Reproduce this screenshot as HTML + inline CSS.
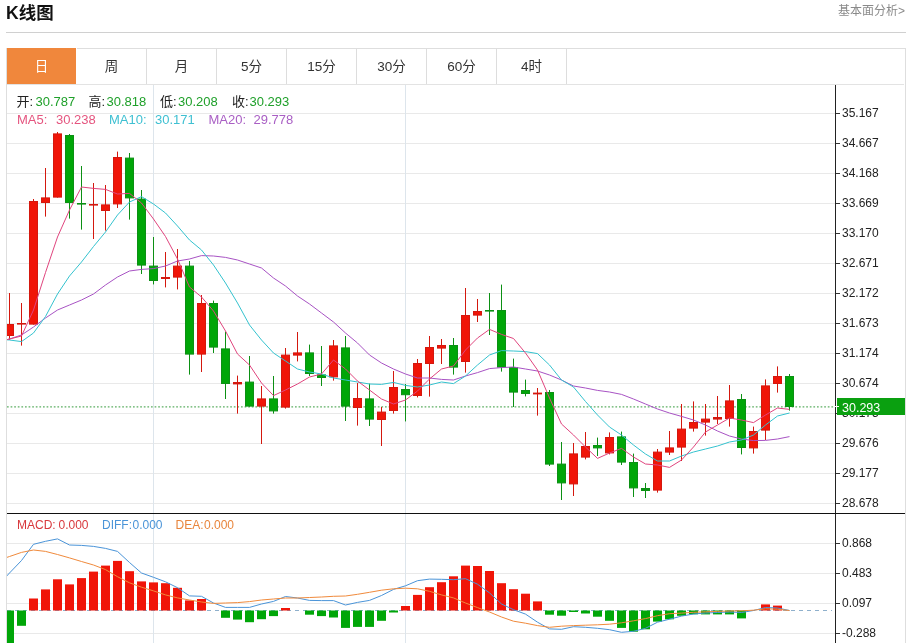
<!DOCTYPE html>
<html lang="zh-CN"><head><meta charset="utf-8"><title>K线图</title>
<style>
html,body{margin:0;padding:0;background:#fff;}
body{width:910px;height:643px;position:relative;overflow:hidden;font-family:"Liberation Sans","Noto Sans CJK SC",sans-serif;}
.title{position:absolute;left:6px;top:1px;height:24px;line-height:24px;font-size:17.5px;font-weight:bold;color:#111;}
.more{position:absolute;right:5px;top:3px;font-size:12px;line-height:17px;color:#8a8a8a;}
.hr{position:absolute;left:6px;top:32px;width:900px;height:1px;background:#d0d0d0;}
.box{position:absolute;left:6px;top:48px;width:898px;height:600px;border:1px solid #dedede;border-bottom:none;}
.tabs{position:absolute;left:7px;top:49px;height:35px;display:flex;}
.tab{width:69px;height:35px;line-height:36px;text-align:center;font-size:13.5px;color:#333;border-right:1px solid #ddd;}
.tab.on{background:#f0873c;color:#fff;margin-top:-1px;height:36px;line-height:38px;border-right-color:#fff;}
</style></head><body>
<div class="title">K线图</div>
<div class="more">基本面分析&gt;</div>
<div class="hr"></div>
<div class="box"></div>
<div class="tabs"><div class="tab on">日</div><div class="tab">周</div><div class="tab">月</div><div class="tab">5分</div><div class="tab">15分</div><div class="tab">30分</div><div class="tab">60分</div><div class="tab">4时</div></div>
<svg width="910" height="643" viewBox="0 0 910 643" style="position:absolute;left:0;top:0">
<defs><clipPath id="cp"><rect x="7" y="85" width="828" height="558"/></clipPath></defs>
<g shape-rendering="crispEdges">
<rect x="7" y="84" width="897" height="1" fill="#e3e3e3"/>
<rect x="7" y="113" width="828" height="1" fill="#e9e9e9"/>
<rect x="7" y="143" width="828" height="1" fill="#e9e9e9"/>
<rect x="7" y="173" width="828" height="1" fill="#e9e9e9"/>
<rect x="7" y="203" width="828" height="1" fill="#e9e9e9"/>
<rect x="7" y="233" width="828" height="1" fill="#e9e9e9"/>
<rect x="7" y="263" width="828" height="1" fill="#e9e9e9"/>
<rect x="7" y="293" width="828" height="1" fill="#e9e9e9"/>
<rect x="7" y="323" width="828" height="1" fill="#e9e9e9"/>
<rect x="7" y="353" width="828" height="1" fill="#e9e9e9"/>
<rect x="7" y="383" width="828" height="1" fill="#e9e9e9"/>
<rect x="7" y="413" width="828" height="1" fill="#e9e9e9"/>
<rect x="7" y="443" width="828" height="1" fill="#e9e9e9"/>
<rect x="7" y="473" width="828" height="1" fill="#e9e9e9"/>
<rect x="7" y="503" width="828" height="1" fill="#e9e9e9"/>
<rect x="7" y="543" width="828" height="1" fill="#e9e9e9"/>
<rect x="7" y="573" width="828" height="1" fill="#e9e9e9"/>
<rect x="7" y="603" width="828" height="1" fill="#e9e9e9"/>
<rect x="7" y="633" width="828" height="1" fill="#e9e9e9"/>
<rect x="153" y="85" width="1" height="558" fill="#dde5ec"/>
<rect x="405" y="85" width="1" height="558" fill="#dde5ec"/>
</g>
<line x1="7" y1="406.9" x2="835" y2="406.9" stroke="#5cae62" stroke-width="1.3" stroke-dasharray="1.7,1.9"/>
<line x1="7" y1="610.5" x2="832" y2="610.5" stroke="#8fb0cc" stroke-width="1" stroke-dasharray="4,4"/>
<g clip-path="url(#cp)">
<g shape-rendering="crispEdges">
<rect x="9" y="293.0" width="1" height="47.0" fill="#d4180e" shape-rendering="auto"/>
<rect x="5.5" y="324.5" width="8" height="11.0" fill="#f01508" stroke="#d4180e" stroke-width="1" shape-rendering="auto"/>
<rect x="21" y="303.0" width="1" height="42.6" fill="#d4180e" shape-rendering="auto"/>
<rect x="17" y="323.0" width="9" height="1.6" fill="#d4180e" shape-rendering="auto"/>
<rect x="33" y="199.0" width="1" height="125.6" fill="#d4180e" shape-rendering="auto"/>
<rect x="29.5" y="201.5" width="8" height="122.6" fill="#f01508" stroke="#d4180e" stroke-width="1" shape-rendering="auto"/>
<rect x="45" y="168.0" width="1" height="48.6" fill="#d4180e" shape-rendering="auto"/>
<rect x="41.5" y="197.9" width="8" height="4.6" fill="#f01508" stroke="#d4180e" stroke-width="1" shape-rendering="auto"/>
<rect x="57" y="132.0" width="1" height="65.6" fill="#d4180e" shape-rendering="auto"/>
<rect x="53.5" y="133.9" width="8" height="63.2" fill="#f01508" stroke="#d4180e" stroke-width="1" shape-rendering="auto"/>
<rect x="69" y="134.0" width="1" height="84.6" fill="#0c9014" shape-rendering="auto"/>
<rect x="65.5" y="135.5" width="8" height="67.0" fill="#00a608" stroke="#0c9014" stroke-width="1" shape-rendering="auto"/>
<rect x="81" y="166.0" width="1" height="63.6" fill="#0c9014" shape-rendering="auto"/>
<rect x="77" y="203.0" width="9" height="1.6" fill="#0c9014" shape-rendering="auto"/>
<rect x="93" y="183.0" width="1" height="56.0" fill="#d4180e" shape-rendering="auto"/>
<rect x="89" y="204.0" width="9" height="1.6" fill="#d4180e" shape-rendering="auto"/>
<rect x="105" y="185.0" width="1" height="45.6" fill="#d4180e" shape-rendering="auto"/>
<rect x="101.5" y="204.9" width="8" height="5.6" fill="#f01508" stroke="#d4180e" stroke-width="1" shape-rendering="auto"/>
<rect x="117" y="151.6" width="1" height="56.4" fill="#d4180e" shape-rendering="auto"/>
<rect x="113.5" y="157.5" width="8" height="46.4" fill="#f01508" stroke="#d4180e" stroke-width="1" shape-rendering="auto"/>
<rect x="129" y="153.0" width="1" height="66.6" fill="#0c9014" shape-rendering="auto"/>
<rect x="125.5" y="158.1" width="8" height="39.8" fill="#00a608" stroke="#0c9014" stroke-width="1" shape-rendering="auto"/>
<rect x="141" y="190.0" width="1" height="84.0" fill="#0c9014" shape-rendering="auto"/>
<rect x="137.5" y="199.1" width="8" height="66.0" fill="#00a608" stroke="#0c9014" stroke-width="1" shape-rendering="auto"/>
<rect x="153" y="237.0" width="1" height="47.4" fill="#0c9014" shape-rendering="auto"/>
<rect x="149.5" y="266.1" width="8" height="14.4" fill="#00a608" stroke="#0c9014" stroke-width="1" shape-rendering="auto"/>
<rect x="165" y="252.0" width="1" height="35.4" fill="#d4180e" shape-rendering="auto"/>
<rect x="161" y="277.0" width="9" height="2.0" fill="#d4180e" shape-rendering="auto"/>
<rect x="177" y="249.0" width="1" height="40.4" fill="#d4180e" shape-rendering="auto"/>
<rect x="173.5" y="266.1" width="8" height="11.0" fill="#f01508" stroke="#d4180e" stroke-width="1" shape-rendering="auto"/>
<rect x="189" y="261.0" width="1" height="113.6" fill="#0c9014" shape-rendering="auto"/>
<rect x="185.5" y="266.1" width="8" height="88.0" fill="#00a608" stroke="#0c9014" stroke-width="1" shape-rendering="auto"/>
<rect x="201" y="295.0" width="1" height="77.0" fill="#d4180e" shape-rendering="auto"/>
<rect x="197.5" y="303.5" width="8" height="50.6" fill="#f01508" stroke="#d4180e" stroke-width="1" shape-rendering="auto"/>
<rect x="213" y="300.6" width="1" height="52.4" fill="#0c9014" shape-rendering="auto"/>
<rect x="209.5" y="303.5" width="8" height="43.6" fill="#00a608" stroke="#0c9014" stroke-width="1" shape-rendering="auto"/>
<rect x="225" y="331.6" width="1" height="67.4" fill="#0c9014" shape-rendering="auto"/>
<rect x="221.5" y="348.9" width="8" height="34.6" fill="#00a608" stroke="#0c9014" stroke-width="1" shape-rendering="auto"/>
<rect x="237" y="375.6" width="1" height="38.0" fill="#d4180e" shape-rendering="auto"/>
<rect x="233" y="382.0" width="9" height="2.4" fill="#d4180e" shape-rendering="auto"/>
<rect x="249" y="356.0" width="1" height="50.6" fill="#0c9014" shape-rendering="auto"/>
<rect x="245.5" y="382.1" width="8" height="24.0" fill="#00a608" stroke="#0c9014" stroke-width="1" shape-rendering="auto"/>
<rect x="261" y="386.0" width="1" height="58.0" fill="#d4180e" shape-rendering="auto"/>
<rect x="257.5" y="398.9" width="8" height="7.2" fill="#f01508" stroke="#d4180e" stroke-width="1" shape-rendering="auto"/>
<rect x="273" y="376.0" width="1" height="37.6" fill="#0c9014" shape-rendering="auto"/>
<rect x="269.5" y="398.9" width="8" height="12.0" fill="#00a608" stroke="#0c9014" stroke-width="1" shape-rendering="auto"/>
<rect x="285" y="348.0" width="1" height="60.6" fill="#d4180e" shape-rendering="auto"/>
<rect x="281.5" y="355.1" width="8" height="52.0" fill="#f01508" stroke="#d4180e" stroke-width="1" shape-rendering="auto"/>
<rect x="297" y="332.0" width="1" height="29.4" fill="#d4180e" shape-rendering="auto"/>
<rect x="293.5" y="352.9" width="8" height="2.2" fill="#f01508" stroke="#d4180e" stroke-width="1" shape-rendering="auto"/>
<rect x="309" y="344.6" width="1" height="31.4" fill="#0c9014" shape-rendering="auto"/>
<rect x="305.5" y="352.9" width="8" height="20.6" fill="#00a608" stroke="#0c9014" stroke-width="1" shape-rendering="auto"/>
<rect x="321" y="346.0" width="1" height="40.0" fill="#0c9014" shape-rendering="auto"/>
<rect x="317.5" y="374.9" width="8" height="2.6" fill="#00a608" stroke="#0c9014" stroke-width="1" shape-rendering="auto"/>
<rect x="333" y="340.0" width="1" height="40.6" fill="#d4180e" shape-rendering="auto"/>
<rect x="329.5" y="345.9" width="8" height="31.0" fill="#f01508" stroke="#d4180e" stroke-width="1" shape-rendering="auto"/>
<rect x="345" y="336.0" width="1" height="85.0" fill="#0c9014" shape-rendering="auto"/>
<rect x="341.5" y="347.9" width="8" height="58.2" fill="#00a608" stroke="#0c9014" stroke-width="1" shape-rendering="auto"/>
<rect x="357" y="383.0" width="1" height="42.6" fill="#d4180e" shape-rendering="auto"/>
<rect x="353.5" y="398.5" width="8" height="9.0" fill="#f01508" stroke="#d4180e" stroke-width="1" shape-rendering="auto"/>
<rect x="369" y="383.6" width="1" height="42.4" fill="#0c9014" shape-rendering="auto"/>
<rect x="365.5" y="398.9" width="8" height="20.2" fill="#00a608" stroke="#0c9014" stroke-width="1" shape-rendering="auto"/>
<rect x="381" y="407.0" width="1" height="39.0" fill="#d4180e" shape-rendering="auto"/>
<rect x="377.5" y="412.1" width="8" height="7.4" fill="#f01508" stroke="#d4180e" stroke-width="1" shape-rendering="auto"/>
<rect x="393" y="371.0" width="1" height="42.6" fill="#d4180e" shape-rendering="auto"/>
<rect x="389.5" y="387.5" width="8" height="23.0" fill="#f01508" stroke="#d4180e" stroke-width="1" shape-rendering="auto"/>
<rect x="405" y="384.0" width="1" height="37.4" fill="#0c9014" shape-rendering="auto"/>
<rect x="401.5" y="389.5" width="8" height="5.2" fill="#00a608" stroke="#0c9014" stroke-width="1" shape-rendering="auto"/>
<rect x="417" y="359.0" width="1" height="38.4" fill="#d4180e" shape-rendering="auto"/>
<rect x="413.5" y="363.5" width="8" height="32.0" fill="#f01508" stroke="#d4180e" stroke-width="1" shape-rendering="auto"/>
<rect x="429" y="336.0" width="1" height="60.6" fill="#d4180e" shape-rendering="auto"/>
<rect x="425.5" y="347.5" width="8" height="16.0" fill="#f01508" stroke="#d4180e" stroke-width="1" shape-rendering="auto"/>
<rect x="441" y="339.0" width="1" height="25.0" fill="#d4180e" shape-rendering="auto"/>
<rect x="437.5" y="345.5" width="8" height="2.6" fill="#f01508" stroke="#d4180e" stroke-width="1" shape-rendering="auto"/>
<rect x="453" y="338.0" width="1" height="36.6" fill="#0c9014" shape-rendering="auto"/>
<rect x="449.5" y="345.5" width="8" height="21.6" fill="#00a608" stroke="#0c9014" stroke-width="1" shape-rendering="auto"/>
<rect x="465" y="288.0" width="1" height="84.6" fill="#d4180e" shape-rendering="auto"/>
<rect x="461.5" y="315.5" width="8" height="46.0" fill="#f01508" stroke="#d4180e" stroke-width="1" shape-rendering="auto"/>
<rect x="477" y="299.0" width="1" height="23.0" fill="#d4180e" shape-rendering="auto"/>
<rect x="473.5" y="311.5" width="8" height="3.6" fill="#f01508" stroke="#d4180e" stroke-width="1" shape-rendering="auto"/>
<rect x="489" y="293.0" width="1" height="42.0" fill="#0c9014" shape-rendering="auto"/>
<rect x="485" y="310.0" width="9" height="1.6" fill="#0c9014" shape-rendering="auto"/>
<rect x="501" y="284.6" width="1" height="87.0" fill="#0c9014" shape-rendering="auto"/>
<rect x="497.5" y="310.5" width="8" height="56.6" fill="#00a608" stroke="#0c9014" stroke-width="1" shape-rendering="auto"/>
<rect x="513" y="358.6" width="1" height="48.4" fill="#0c9014" shape-rendering="auto"/>
<rect x="509.5" y="367.5" width="8" height="24.6" fill="#00a608" stroke="#0c9014" stroke-width="1" shape-rendering="auto"/>
<rect x="525" y="379.6" width="1" height="16.8" fill="#0c9014" shape-rendering="auto"/>
<rect x="521.5" y="390.5" width="8" height="3.0" fill="#00a608" stroke="#0c9014" stroke-width="1" shape-rendering="auto"/>
<rect x="537" y="388.0" width="1" height="27.6" fill="#d4180e" shape-rendering="auto"/>
<rect x="533" y="392.6" width="9" height="1.8" fill="#d4180e" shape-rendering="auto"/>
<rect x="549" y="390.0" width="1" height="76.0" fill="#0c9014" shape-rendering="auto"/>
<rect x="545.5" y="392.5" width="8" height="71.6" fill="#00a608" stroke="#0c9014" stroke-width="1" shape-rendering="auto"/>
<rect x="561" y="442.0" width="1" height="58.0" fill="#0c9014" shape-rendering="auto"/>
<rect x="557.5" y="464.1" width="8" height="18.8" fill="#00a608" stroke="#0c9014" stroke-width="1" shape-rendering="auto"/>
<rect x="573" y="443.0" width="1" height="53.0" fill="#d4180e" shape-rendering="auto"/>
<rect x="569.5" y="453.9" width="8" height="30.0" fill="#f01508" stroke="#d4180e" stroke-width="1" shape-rendering="auto"/>
<rect x="585" y="432.0" width="1" height="27.4" fill="#d4180e" shape-rendering="auto"/>
<rect x="581.5" y="446.5" width="8" height="10.6" fill="#f01508" stroke="#d4180e" stroke-width="1" shape-rendering="auto"/>
<rect x="597" y="437.6" width="1" height="18.4" fill="#0c9014" shape-rendering="auto"/>
<rect x="593.5" y="445.5" width="8" height="2.4" fill="#00a608" stroke="#0c9014" stroke-width="1" shape-rendering="auto"/>
<rect x="609" y="432.4" width="1" height="22.0" fill="#d4180e" shape-rendering="auto"/>
<rect x="605.5" y="437.5" width="8" height="15.4" fill="#f01508" stroke="#d4180e" stroke-width="1" shape-rendering="auto"/>
<rect x="621" y="431.6" width="1" height="33.4" fill="#0c9014" shape-rendering="auto"/>
<rect x="617.5" y="436.9" width="8" height="25.2" fill="#00a608" stroke="#0c9014" stroke-width="1" shape-rendering="auto"/>
<rect x="633" y="453.6" width="1" height="43.4" fill="#0c9014" shape-rendering="auto"/>
<rect x="629.5" y="462.5" width="8" height="25.4" fill="#00a608" stroke="#0c9014" stroke-width="1" shape-rendering="auto"/>
<rect x="645" y="483.0" width="1" height="15.0" fill="#0c9014" shape-rendering="auto"/>
<rect x="641" y="488.0" width="9" height="3.0" fill="#0c9014" shape-rendering="auto"/>
<rect x="657" y="449.0" width="1" height="43.6" fill="#d4180e" shape-rendering="auto"/>
<rect x="653.5" y="452.1" width="8" height="38.0" fill="#f01508" stroke="#d4180e" stroke-width="1" shape-rendering="auto"/>
<rect x="669" y="431.0" width="1" height="24.0" fill="#d4180e" shape-rendering="auto"/>
<rect x="665.5" y="447.9" width="8" height="4.2" fill="#f01508" stroke="#d4180e" stroke-width="1" shape-rendering="auto"/>
<rect x="681" y="404.0" width="1" height="57.0" fill="#d4180e" shape-rendering="auto"/>
<rect x="677.5" y="429.1" width="8" height="18.0" fill="#f01508" stroke="#d4180e" stroke-width="1" shape-rendering="auto"/>
<rect x="693" y="401.4" width="1" height="30.2" fill="#d4180e" shape-rendering="auto"/>
<rect x="689.5" y="422.5" width="8" height="5.6" fill="#f01508" stroke="#d4180e" stroke-width="1" shape-rendering="auto"/>
<rect x="705" y="404.0" width="1" height="31.6" fill="#d4180e" shape-rendering="auto"/>
<rect x="701.5" y="419.1" width="8" height="3.0" fill="#f01508" stroke="#d4180e" stroke-width="1" shape-rendering="auto"/>
<rect x="717" y="396.0" width="1" height="28.0" fill="#d4180e" shape-rendering="auto"/>
<rect x="713" y="417.0" width="9" height="2.6" fill="#d4180e" shape-rendering="auto"/>
<rect x="729" y="385.0" width="1" height="41.6" fill="#d4180e" shape-rendering="auto"/>
<rect x="725.5" y="400.9" width="8" height="17.6" fill="#f01508" stroke="#d4180e" stroke-width="1" shape-rendering="auto"/>
<rect x="741" y="394.0" width="1" height="60.4" fill="#0c9014" shape-rendering="auto"/>
<rect x="737.5" y="399.5" width="8" height="48.0" fill="#00a608" stroke="#0c9014" stroke-width="1" shape-rendering="auto"/>
<rect x="753" y="426.6" width="1" height="27.0" fill="#d4180e" shape-rendering="auto"/>
<rect x="749.5" y="431.5" width="8" height="16.4" fill="#f01508" stroke="#d4180e" stroke-width="1" shape-rendering="auto"/>
<rect x="765" y="379.4" width="1" height="60.6" fill="#d4180e" shape-rendering="auto"/>
<rect x="761.5" y="385.9" width="8" height="44.2" fill="#f01508" stroke="#d4180e" stroke-width="1" shape-rendering="auto"/>
<rect x="777" y="366.4" width="1" height="26.2" fill="#d4180e" shape-rendering="auto"/>
<rect x="773.5" y="376.5" width="8" height="7.0" fill="#f01508" stroke="#d4180e" stroke-width="1" shape-rendering="auto"/>
<rect x="789" y="374.0" width="1" height="36.6" fill="#0c9014" shape-rendering="auto"/>
<rect x="785.5" y="376.5" width="8" height="30.0" fill="#00a608" stroke="#0c9014" stroke-width="1" shape-rendering="auto"/>
<rect x="5" y="610.5" width="9" height="32.5" fill="#00a608" shape-rendering="auto"/>
<rect x="17" y="610.5" width="9" height="15.3" fill="#00a608" shape-rendering="auto"/>
<rect x="29" y="598.5" width="9" height="12.0" fill="#f01508" shape-rendering="auto"/>
<rect x="41" y="589.4" width="9" height="21.1" fill="#f01508" shape-rendering="auto"/>
<rect x="53" y="579.3" width="9" height="31.2" fill="#f01508" shape-rendering="auto"/>
<rect x="65" y="584.4" width="9" height="26.1" fill="#f01508" shape-rendering="auto"/>
<rect x="77" y="578.1" width="9" height="32.4" fill="#f01508" shape-rendering="auto"/>
<rect x="89" y="571.6" width="9" height="38.9" fill="#f01508" shape-rendering="auto"/>
<rect x="101" y="565.6" width="9" height="44.9" fill="#f01508" shape-rendering="auto"/>
<rect x="113" y="560.9" width="9" height="49.6" fill="#f01508" shape-rendering="auto"/>
<rect x="125" y="571.2" width="9" height="39.3" fill="#f01508" shape-rendering="auto"/>
<rect x="137" y="581.4" width="9" height="29.1" fill="#f01508" shape-rendering="auto"/>
<rect x="149" y="582.4" width="9" height="28.1" fill="#f01508" shape-rendering="auto"/>
<rect x="161" y="583.2" width="9" height="27.3" fill="#f01508" shape-rendering="auto"/>
<rect x="173" y="587.8" width="9" height="22.7" fill="#f01508" shape-rendering="auto"/>
<rect x="185" y="600.4" width="9" height="10.1" fill="#f01508" shape-rendering="auto"/>
<rect x="197" y="599.0" width="9" height="11.5" fill="#f01508" shape-rendering="auto"/>
<rect x="221" y="610.5" width="9" height="7.3" fill="#00a608" shape-rendering="auto"/>
<rect x="233" y="610.5" width="9" height="9.1" fill="#00a608" shape-rendering="auto"/>
<rect x="245" y="610.5" width="9" height="11.7" fill="#00a608" shape-rendering="auto"/>
<rect x="257" y="610.5" width="9" height="8.7" fill="#00a608" shape-rendering="auto"/>
<rect x="269" y="610.5" width="9" height="5.6" fill="#00a608" shape-rendering="auto"/>
<rect x="281" y="608.0" width="9" height="2.5" fill="#f01508" shape-rendering="auto"/>
<rect x="305" y="610.5" width="9" height="4.2" fill="#00a608" shape-rendering="auto"/>
<rect x="317" y="610.5" width="9" height="5.6" fill="#00a608" shape-rendering="auto"/>
<rect x="329" y="610.5" width="9" height="7.0" fill="#00a608" shape-rendering="auto"/>
<rect x="341" y="610.5" width="9" height="17.4" fill="#00a608" shape-rendering="auto"/>
<rect x="353" y="610.5" width="9" height="16.4" fill="#00a608" shape-rendering="auto"/>
<rect x="365" y="610.5" width="9" height="16.4" fill="#00a608" shape-rendering="auto"/>
<rect x="377" y="610.5" width="9" height="10.3" fill="#00a608" shape-rendering="auto"/>
<rect x="389" y="610.5" width="9" height="2.0" fill="#00a608" shape-rendering="auto"/>
<rect x="401" y="606.0" width="9" height="4.5" fill="#f01508" shape-rendering="auto"/>
<rect x="413" y="594.9" width="9" height="15.6" fill="#f01508" shape-rendering="auto"/>
<rect x="425" y="587.2" width="9" height="23.3" fill="#f01508" shape-rendering="auto"/>
<rect x="437" y="582.2" width="9" height="28.3" fill="#f01508" shape-rendering="auto"/>
<rect x="449" y="576.3" width="9" height="34.2" fill="#f01508" shape-rendering="auto"/>
<rect x="461" y="565.6" width="9" height="44.9" fill="#f01508" shape-rendering="auto"/>
<rect x="473" y="566.0" width="9" height="44.5" fill="#f01508" shape-rendering="auto"/>
<rect x="485" y="571.0" width="9" height="39.5" fill="#f01508" shape-rendering="auto"/>
<rect x="497" y="583.2" width="9" height="27.3" fill="#f01508" shape-rendering="auto"/>
<rect x="509" y="589.2" width="9" height="21.3" fill="#f01508" shape-rendering="auto"/>
<rect x="521" y="593.7" width="9" height="16.8" fill="#f01508" shape-rendering="auto"/>
<rect x="533" y="601.4" width="9" height="9.1" fill="#f01508" shape-rendering="auto"/>
<rect x="545" y="610.5" width="9" height="4.2" fill="#00a608" shape-rendering="auto"/>
<rect x="557" y="610.5" width="9" height="5.2" fill="#00a608" shape-rendering="auto"/>
<rect x="569" y="610.5" width="9" height="1.5" fill="#00a608" shape-rendering="auto"/>
<rect x="581" y="610.5" width="9" height="3.0" fill="#00a608" shape-rendering="auto"/>
<rect x="593" y="610.5" width="9" height="6.2" fill="#00a608" shape-rendering="auto"/>
<rect x="605" y="610.5" width="9" height="10.3" fill="#00a608" shape-rendering="auto"/>
<rect x="617" y="610.5" width="9" height="17.4" fill="#00a608" shape-rendering="auto"/>
<rect x="629" y="610.5" width="9" height="21.2" fill="#00a608" shape-rendering="auto"/>
<rect x="641" y="610.5" width="9" height="18.8" fill="#00a608" shape-rendering="auto"/>
<rect x="653" y="610.5" width="9" height="11.1" fill="#00a608" shape-rendering="auto"/>
<rect x="665" y="610.5" width="9" height="8.8" fill="#00a608" shape-rendering="auto"/>
<rect x="677" y="610.5" width="9" height="5.3" fill="#00a608" shape-rendering="auto"/>
<rect x="689" y="610.5" width="9" height="3.8" fill="#00a608" shape-rendering="auto"/>
<rect x="701" y="610.5" width="9" height="3.9" fill="#00a608" shape-rendering="auto"/>
<rect x="713" y="610.5" width="9" height="3.9" fill="#00a608" shape-rendering="auto"/>
<rect x="725" y="610.5" width="9" height="3.9" fill="#00a608" shape-rendering="auto"/>
<rect x="737" y="610.5" width="9" height="7.9" fill="#00a608" shape-rendering="auto"/>
<rect x="761" y="604.4" width="9" height="6.1" fill="#f01508" shape-rendering="auto"/>
<rect x="773" y="605.6" width="9" height="4.9" fill="#f01508" shape-rendering="auto"/>
</g>
<polyline points="-2.5,342 9.5,339.0 21.5,335.0 33.5,327.0 45.5,318.0 57.5,310.0 69.5,305.0 81.5,300.0 93.5,294.0 105.5,285.0 117.5,277.0 129.5,271.0 141.5,269.4 153.5,268.6 165.5,266.0 177.5,261.0 189.5,259.0 201.5,255.6 213.5,256.0 225.5,257.4 237.5,260.0 249.5,264.0 261.5,268.0 273.5,278.0 285.5,286.0 297.5,296.0 309.5,304.0 321.5,313.0 333.5,322.0 345.5,333.0 357.5,343.0 369.5,355.0 381.5,363.0 393.5,369.0 405.5,374.0 417.5,378.0 429.5,378.0 441.5,379.4 453.5,380.0 465.5,376.0 477.5,372.6 489.5,368.6 501.5,367.6 513.5,367.0 525.5,369.0 537.5,371.0 549.5,375.0 561.5,380.0 573.5,386.0 585.5,388.0 597.5,390.4 609.5,392.0 621.5,394.4 633.5,399.0 645.5,404.0 657.5,409.0 669.5,413.0 681.5,416.4 693.5,420.0 705.5,425.0 717.5,431.0 729.5,436.0 741.5,439.0 753.5,440.6 765.5,440.4 777.5,439.0 789.5,436.6" fill="none" stroke="#a853c4" stroke-width="1.0" stroke-linejoin="round"/>
<polyline points="-2.5,339 9.5,340.0 21.5,341.6 33.5,333.0 45.5,316.5 57.5,294.0 69.5,276.0 81.5,262.0 93.5,246.5 105.5,232.0 117.5,215.0 129.5,202.0 141.5,196.6 153.5,204.0 165.5,213.0 177.5,226.0 189.5,240.0 201.5,250.0 213.5,265.0 225.5,283.0 237.5,303.0 249.5,325.0 261.5,340.0 273.5,353.0 285.5,361.0 297.5,369.0 309.5,372.0 321.5,374.0 333.5,378.0 345.5,380.0 357.5,382.0 369.5,384.0 381.5,384.4 393.5,382.4 405.5,385.4 417.5,387.0 429.5,385.0 441.5,382.0 453.5,383.6 465.5,376.0 477.5,365.0 489.5,355.0 501.5,350.6 513.5,351.0 525.5,351.6 537.5,353.6 549.5,365.0 561.5,380.0 573.5,387.0 585.5,401.5 597.5,415.0 609.5,427.0 621.5,435.0 633.5,445.0 645.5,454.0 657.5,461.0 669.5,461.0 681.5,456.0 693.5,452.0 705.5,449.0 717.5,446.0 729.5,442.0 741.5,440.0 753.5,435.0 765.5,425.0 777.5,416.0 789.5,413.0" fill="none" stroke="#35c3cf" stroke-width="1.0" stroke-linejoin="round"/>
<polyline points="-2.5,342 9.5,339.0 21.5,336.0 33.5,310.0 45.5,272.5 57.5,237.0 69.5,210.0 81.5,187.0 93.5,188.4 105.5,189.4 117.5,194.0 129.5,193.4 141.5,203.0 153.5,219.0 165.5,236.5 177.5,259.0 189.5,287.0 201.5,297.0 213.5,311.0 225.5,331.0 237.5,354.0 249.5,365.0 261.5,383.0 273.5,395.6 285.5,390.0 297.5,384.0 309.5,377.0 321.5,374.0 333.5,360.0 345.5,369.0 357.5,381.0 369.5,390.0 381.5,399.0 393.5,404.0 405.5,400.0 417.5,391.0 429.5,379.0 441.5,369.0 453.5,366.0 465.5,350.0 477.5,338.0 489.5,329.4 501.5,334.4 513.5,338.5 525.5,353.0 537.5,370.0 549.5,398.0 561.5,424.0 573.5,435.0 585.5,447.0 597.5,458.4 609.5,453.0 621.5,448.4 633.5,457.0 645.5,464.0 657.5,465.0 669.5,467.4 681.5,460.0 693.5,447.0 705.5,432.0 717.5,425.0 729.5,418.0 741.5,420.0 753.5,422.6 765.5,415.0 777.5,408.0 789.5,409.4" fill="none" stroke="#e0457e" stroke-width="1.0" stroke-linejoin="round"/>
<polyline points="-2.5,586 9.5,573.0 21.5,560.5 33.5,544.3 45.5,541.3 57.5,538.9 69.5,545.0 81.5,545.4 93.5,546.4 105.5,548.4 117.5,551.4 129.5,562.5 141.5,573.0 153.5,577.3 165.5,581.8 177.5,587.7 189.5,595.9 201.5,596.3 213.5,603.0 225.5,607.4 237.5,607.4 249.5,607.4 261.5,604.0 273.5,601.4 285.5,596.5 297.5,598.0 309.5,600.4 321.5,600.6 333.5,600.6 345.5,605.0 357.5,602.4 369.5,600.4 381.5,595.5 393.5,589.4 405.5,585.8 417.5,580.7 429.5,579.1 441.5,579.3 453.5,579.7 465.5,578.7 477.5,584.2 489.5,592.9 501.5,604.0 513.5,609.7 525.5,614.1 537.5,622.2 549.5,628.9 561.5,629.3 573.5,626.7 585.5,627.3 597.5,628.3 609.5,629.7 621.5,632.3 633.5,631.3 645.5,628.3 657.5,622.2 669.5,619.2 681.5,616.1 693.5,614.0 705.5,613.0 717.5,612.5 729.5,612.0 741.5,612.5 753.5,610.5 765.5,607.5 777.5,608.0 789.5,610.5" fill="none" stroke="#4a94d8" stroke-width="1.0" stroke-linejoin="round"/>
<polyline points="-2.5,560.6 9.5,556.5 21.5,552.4 33.5,550.0 45.5,551.4 57.5,554.5 69.5,557.9 81.5,561.5 93.5,565.0 105.5,569.6 117.5,576.7 129.5,582.8 141.5,587.2 153.5,590.9 165.5,594.9 177.5,597.9 189.5,600.0 201.5,602.0 213.5,603.4 225.5,603.0 237.5,602.6 249.5,601.6 261.5,600.0 273.5,599.0 285.5,598.0 297.5,598.0 309.5,597.5 321.5,597.0 333.5,596.3 345.5,596.0 357.5,594.3 369.5,592.3 381.5,590.2 393.5,588.8 405.5,588.2 417.5,588.8 429.5,591.3 441.5,594.9 453.5,597.9 465.5,603.0 477.5,607.6 489.5,612.0 501.5,617.0 513.5,621.2 525.5,623.2 537.5,625.6 549.5,627.3 561.5,626.2 573.5,625.6 585.5,625.2 597.5,624.8 609.5,624.2 621.5,622.8 633.5,620.8 645.5,618.6 657.5,615.7 669.5,613.7 681.5,613.1 693.5,612.3 705.5,611.8 717.5,611.4 729.5,611.0 741.5,610.8 753.5,610.2 765.5,608.8 777.5,609.2 789.5,610.5" fill="none" stroke="#f08a3c" stroke-width="1.0" stroke-linejoin="round"/>
</g>
<g shape-rendering="crispEdges">
<rect x="835" y="85" width="1" height="558" fill="#222"/>
<rect x="7" y="513" width="898" height="1" fill="#111"/>
<rect x="836" y="113" width="4" height="1" fill="#333"/>
<rect x="836" y="143" width="4" height="1" fill="#333"/>
<rect x="836" y="173" width="4" height="1" fill="#333"/>
<rect x="836" y="203" width="4" height="1" fill="#333"/>
<rect x="836" y="233" width="4" height="1" fill="#333"/>
<rect x="836" y="263" width="4" height="1" fill="#333"/>
<rect x="836" y="293" width="4" height="1" fill="#333"/>
<rect x="836" y="323" width="4" height="1" fill="#333"/>
<rect x="836" y="353" width="4" height="1" fill="#333"/>
<rect x="836" y="383" width="4" height="1" fill="#333"/>
<rect x="836" y="413" width="4" height="1" fill="#333"/>
<rect x="836" y="443" width="4" height="1" fill="#333"/>
<rect x="836" y="473" width="4" height="1" fill="#333"/>
<rect x="836" y="503" width="4" height="1" fill="#333"/>
<rect x="836" y="543" width="4" height="1" fill="#333"/>
<rect x="836" y="573" width="4" height="1" fill="#333"/>
<rect x="836" y="603" width="4" height="1" fill="#333"/>
<rect x="836" y="633" width="4" height="1" fill="#333"/>
</g>
<g font-family="Liberation Sans, sans-serif" font-size="12" fill="#222">
<text x="842" y="117">35.167</text>
<text x="842" y="147">34.667</text>
<text x="842" y="177">34.168</text>
<text x="842" y="207">33.669</text>
<text x="842" y="237">33.170</text>
<text x="842" y="267">32.671</text>
<text x="842" y="297">32.172</text>
<text x="842" y="327">31.673</text>
<text x="842" y="357">31.174</text>
<text x="842" y="387">30.674</text>
<text x="842" y="417">30.175</text>
<text x="842" y="447">29.676</text>
<text x="842" y="477">29.177</text>
<text x="842" y="507">28.678</text>
<text x="842" y="547">0.868</text>
<text x="842" y="577">0.483</text>
<text x="842" y="607">0.097</text>
<text x="842" y="637">-0.288</text>
<rect x="837" y="398" width="68" height="17" fill="#0aa010"/>
<rect x="835" y="406" width="4" height="1" fill="#fff"/>
<text x="842" y="411.5" fill="#fff" font-size="12.5">30.293</text>
</g>
<g font-family="Liberation Sans, Noto Sans CJK SC, sans-serif" font-size="13">
<text x="16.5" y="105.5" fill="#222">开:</text>
<text x="35.5" y="105.5" fill="#1fa02a">30.787</text>
<text x="88.5" y="105.5" fill="#222">高:</text>
<text x="106.5" y="105.5" fill="#1fa02a">30.818</text>
<text x="160" y="105.5" fill="#222">低:</text>
<text x="178" y="105.5" fill="#1fa02a">30.208</text>
<text x="232" y="105.5" fill="#222">收:</text>
<text x="249.5" y="105.5" fill="#1fa02a">30.293</text>
<text x="17" y="123.5" fill="#e5557f">MA5:</text>
<text x="56" y="123.5" fill="#e5557f">30.238</text>
<text x="109" y="123.5" fill="#3fc0d2">MA10:</text>
<text x="155" y="123.5" fill="#3fc0d2">30.171</text>
<text x="208.5" y="123.5" fill="#a95fc4">MA20:</text>
<text x="253.5" y="123.5" fill="#a95fc4">29.778</text>
</g>
<g font-family="Liberation Sans, Noto Sans CJK SC, sans-serif" font-size="12">
<text x="17" y="528.5" fill="#d8383c">MACD:</text>
<text x="58.5" y="528.5" fill="#d8383c">0.000</text>
<text x="102" y="528.5" fill="#4a94d8">DIFF:</text>
<text x="132.5" y="528.5" fill="#4a94d8">0.000</text>
<text x="175.5" y="528.5" fill="#e8853c">DEA:</text>
<text x="204" y="528.5" fill="#e8853c">0.000</text>
</g>
</svg>
</body></html>
